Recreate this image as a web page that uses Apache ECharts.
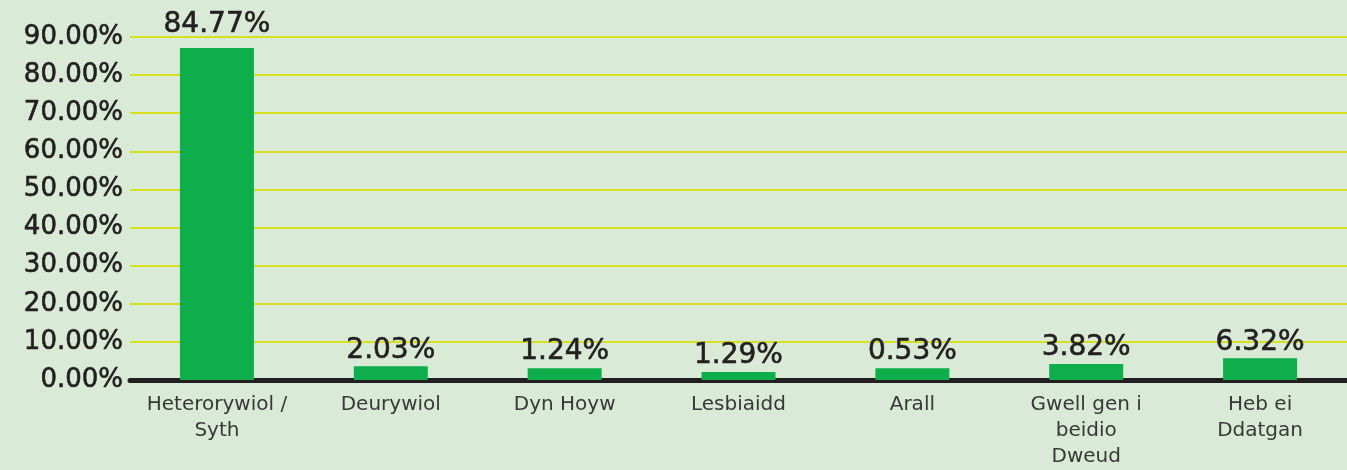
<!DOCTYPE html>
<html>
<head>
<meta charset="utf-8">
<script src="https://cdn.jsdelivr.net/npm/echarts@6/dist/echarts.min.js"></script>
<style>
	html, body { margin: 0; padding: 0; background: #d9ebd6; }
	#chart { width: 1347px; height: 470px; }
</style>
</head>
<body>
<div id="chart"></div>
<script>
// categories (line breaks as in the picture)
var categories = ['Heterorywiol /\nSyth', 'Deurywiol', 'Dyn Hoyw', 'Lesbiaidd', 'Arall', 'Gwell gen i\nbeidio\nDweud', 'Heb ei\nDdatgan'];
// bar heights as drawn in the picture (%)
var barHeights = [87.1, 3.6, 3.1, 2.1, 3.1, 4.2, 5.7];
// value labels printed above the bars
var valueLabels = ['84.77%', '2.03%', '1.24%', '1.29%', '0.53%', '3.82%', '6.32%'];
// y axis ticks
var yMin = 0, yMax = 90, yStep = 10;

var myChart = echarts.init(document.getElementById('chart'));

var barData = barHeights.map(function (v, i) {
	return {
		value: v,
		label: {
			formatter: valueLabels[i],
			distance: i === 0 ? 9 : 2
		}
	};
});

var option = {
	backgroundColor: '#d9ebd6',
	animation: false,
	grid: {
		left: 130,
		right: 0,
		top: 37,
		bottom: 87,
		containLabel: false
	},
	xAxis: {
		type: 'category',
		data: categories,
		axisLine: {
			lineStyle: { color: '#231f20', width: 5 }
		},
		axisTick: { show: false },
		axisLabel: {
			color: '#383838',
			fontFamily: 'DejaVu Sans',
			fontSize: 20,
			lineHeight: 26,
			margin: 12,
			interval: 0
		}
	},
	yAxis: {
		type: 'value',
		min: yMin,
		max: yMax,
		interval: yStep,
		axisLine: { show: false },
		axisTick: { show: false },
		splitLine: {
			lineStyle: { color: '#d6e021', width: 2 }
		},
		axisLabel: {
			color: '#231f20',
			fontFamily: 'DejaVu Sans',
			fontSize: 26,
			margin: 7,
			textBorderColor: '#231f20',
			textBorderWidth: 0.6,
			formatter: function (v) {
				return v.toFixed(2) + '%';
			}
		}
	},
	series: [{
		type: 'bar',
		data: barData,
		barWidth: 74,
		itemStyle: { color: '#0dae4b' },
		label: {
			show: true,
			position: 'top',
			color: '#231f20',
			fontFamily: 'DejaVu Sans',
			fontSize: 28,
			textBorderColor: '#231f20',
			textBorderWidth: 0.6
		},
		z: 1
	}]
};
myChart.setOption(option);
window.addEventListener("resize", function () {
	myChart.resize();
});
</script>
</body>
</html>
